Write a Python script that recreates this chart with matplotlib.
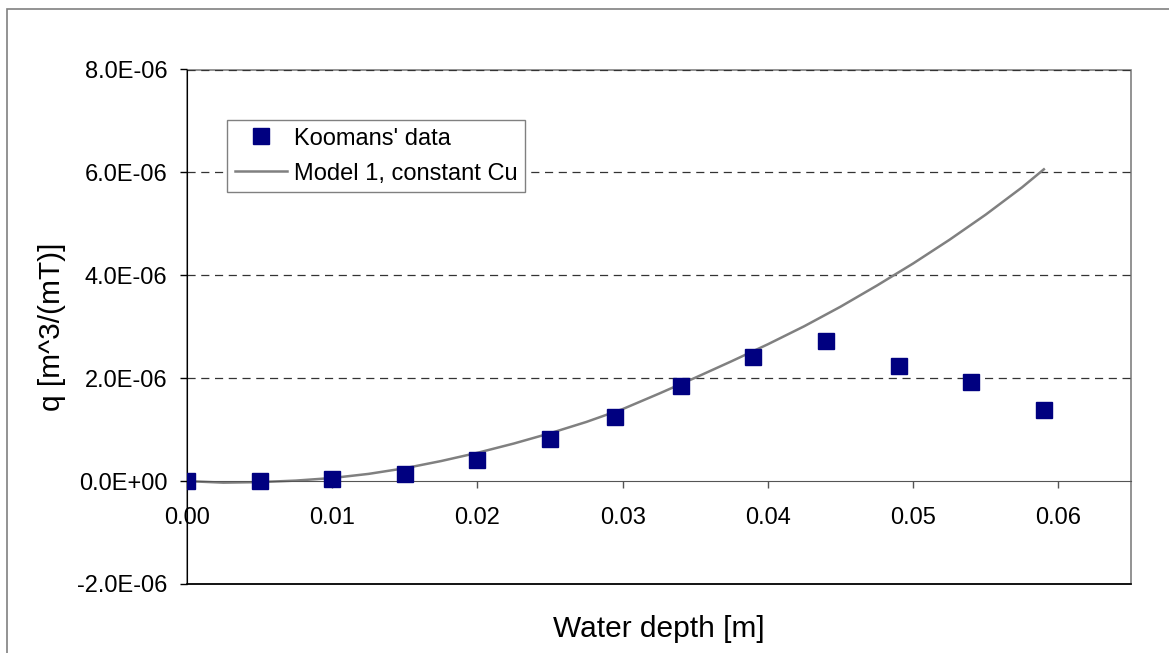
import matplotlib.pyplot as plt
from matplotlib.patches import Rectangle
from matplotlib.ticker import FuncFormatter, MultipleLocator

plt.rcParams['font.family'] = ['Liberation Sans', 'DejaVu Sans']

# Koomans' measured data
depth_data = [0.0, 0.005, 0.01, 0.015, 0.02, 0.025, 0.0295, 0.034, 0.039, 0.044, 0.049, 0.054, 0.059]
q_data = [0.0, 0.0, 0.04e-6, 0.14e-6, 0.41e-6, 0.82e-6, 1.24e-6, 1.85e-6, 2.41e-6, 2.72e-6, 2.23e-6, 1.92e-6, 1.39e-6]

# Model 1, constant Cu
depth_model = [0.0, 0.0025, 0.005, 0.0075, 0.01, 0.0125, 0.015, 0.0175, 0.02, 0.0225, 0.025, 0.0275,
               0.03, 0.0325, 0.035, 0.0375, 0.04, 0.0425, 0.045, 0.0475, 0.05, 0.0525, 0.055, 0.0575, 0.059]
q_model = [0.0, -0.03e-6, -0.02e-6, 0.01e-6, 0.06e-6, 0.14e-6, 0.25e-6, 0.39e-6, 0.55e-6, 0.73e-6, 0.93e-6, 1.15e-6,
           1.40e-6, 1.70e-6, 2.01e-6, 2.33e-6, 2.66e-6, 3.01e-6, 3.39e-6, 3.80e-6, 4.23e-6, 4.69e-6, 5.18e-6, 5.71e-6, 6.06e-6]

W, H = 1169, 653
fig = plt.figure(figsize=(W / 100, H / 100), dpi=100)
ax = fig.add_axes([187 / W, 1 - 584 / H, (1131 - 187) / W, (584 - 69.5) / H])

# outer chart border
fig.patches.append(Rectangle((7 / W, -0.5), 2, 0.5 + 1 - 9.5 / H, transform=fig.transFigure,
                             fill=False, edgecolor='#808080', lw=1.2))

ax.set_xlim(0, 0.065)
ax.set_ylim(-2e-6, 8e-6)
ax.xaxis.set_major_locator(MultipleLocator(0.01))
ax.yaxis.set_major_locator(MultipleLocator(2e-6))
ax.xaxis.set_major_formatter(FuncFormatter(lambda v, p: f"{v:.2f}" if v < 0.0605 else ""))
ax.yaxis.set_major_formatter(FuncFormatter(lambda v, p: f"{v:.1E}"))

for y in [2e-6, 4e-6, 6e-6, 8e-6]:
    ax.axhline(y, color='#333333', lw=0.9, linestyle=(0, (6.5, 4.5)), zorder=1)

ax.spines['bottom'].set_position(('data', 0))
ax.spines['bottom'].set_color('#555555')
ax.spines['left'].set_color('black')
ax.spines['top'].set_visible(False)
ax.spines['right'].set_visible(False)
ax.add_patch(Rectangle((0, 0), 1, 1, transform=ax.transAxes, fill=False,
                       edgecolor='#808080', lw=1.2, zorder=0.5, clip_on=False))
ax.plot([0, 1], [0, 0], transform=ax.transAxes, color='black', lw=1.2, clip_on=False)

ax.tick_params(axis='x', direction='out', length=5, width=1, color='#555555', pad=14, labelsize=17)
ax.tick_params(axis='y', direction='out', length=5, width=1, color='black', pad=9, labelsize=17)

ax.plot(depth_model, q_model, color='#808080', lw=1.8, zorder=2, label='Model 1, constant Cu')
ax.plot(depth_data, q_data, linestyle='none', marker='s', markersize=11, color='#000080',
        markeredgecolor='#000080', zorder=3, label="Koomans' data")

handles, labels = ax.get_legend_handles_labels()
leg = ax.legend(handles[::-1], labels[::-1], loc='upper left', bbox_to_anchor=(227 / W, 1 - 120 / H),
                bbox_transform=fig.transFigure, fontsize=17, numpoints=1, fancybox=False,
                edgecolor='#808080', framealpha=1, borderaxespad=0, borderpad=0.32,
                handlelength=2.2, handletextpad=0.3, labelspacing=0.55)
leg.get_frame().set_linewidth(1.0)

fig.text(659 / W, 1 - 629 / H, 'Water depth [m]', ha='center', va='center', fontsize=21.5)
fig.text(52 / W, 1 - 327 / H, 'q [m^3/(mT)]', ha='center', va='center', rotation=90, fontsize=21.5)

fig.savefig('out.png', dpi=100)
